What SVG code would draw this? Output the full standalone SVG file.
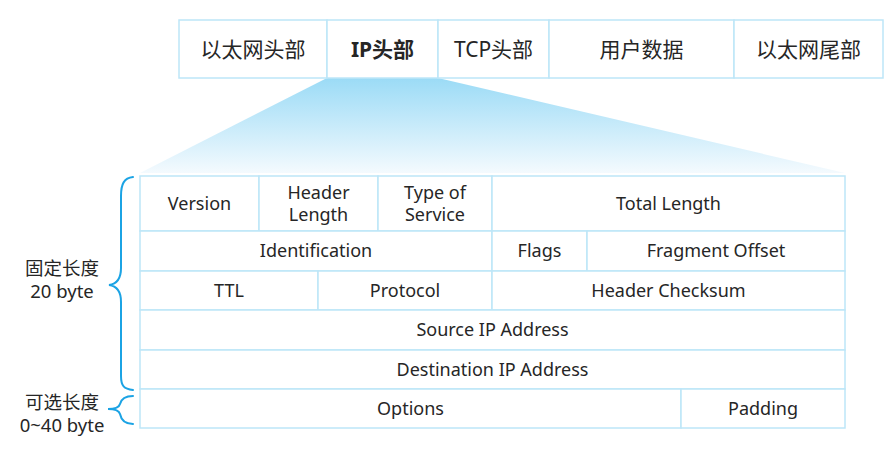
<svg xmlns="http://www.w3.org/2000/svg" width="891" height="452" viewBox="0 0 891 452">
<style>
.cell{fill:#ffffff;stroke:#bde6f8;stroke-width:1.5}
.t{font-family:"Noto Sans","Noto Sans CJK SC",sans-serif;font-size:18px;fill:#262626;text-anchor:middle}
.l{font-family:"Noto Sans","Noto Sans CJK SC",sans-serif;font-size:18.5px;fill:#262626;text-anchor:middle}
.h{font-family:"Noto Sans","Noto Sans CJK SC",sans-serif;font-size:21px;fill:#262626;text-anchor:middle}
.b{font-weight:bold}
.brace{fill:none;stroke:#1ba3e4;stroke-width:2;stroke-linecap:round}
</style>
<defs>
<linearGradient id="g" x1="0" y1="0" x2="0" y2="1">
<stop offset="0" stop-color="#9bdbf6"/>
<stop offset="1" stop-color="#f4fafe"/>
</linearGradient>
</defs>
<rect width="891" height="452" fill="#ffffff"/>
<polygon points="327,78 438,78 845,173 140,173" fill="url(#g)"/>
<g id="frame">
<g id="eth-head"><rect class="cell" x="179" y="20" width="148" height="58"/><text class="h" x="253" y="57">以太网头部</text></g>
<g id="ip-head"><rect class="cell" x="327" y="20" width="111" height="58"/><text class="h b" x="382.5" y="57">IP头部</text></g>
<g id="tcp-head"><rect class="cell" x="438" y="20" width="111" height="58"/><text class="h" x="493.5" y="57">TCP头部</text></g>
<g id="data"><rect class="cell" x="549" y="20" width="185" height="58"/><text class="h" x="641.5" y="57">用户数据</text></g>
<g id="eth-tail"><rect class="cell" x="734" y="20" width="149" height="58"/><text class="h" x="808.5" y="57">以太网尾部</text></g>
</g>
<g id="ip-header">
<g id="version"><rect class="cell" x="140" y="176" width="119" height="55"/><text class="t" x="199.5" y="210">Version</text></g>
<g id="hlen"><rect class="cell" x="259" y="176" width="119" height="55"/><text class="t" x="318.5" y="199">Header</text><text class="t" x="318.5" y="221">Length</text></g>
<g id="tos"><rect class="cell" x="378" y="176" width="114" height="55"/><text class="t" x="435" y="199">Type of</text><text class="t" x="435" y="221">Service</text></g>
<g id="totlen"><rect class="cell" x="492" y="176" width="353" height="55"/><text class="t" x="668.5" y="210">Total Length</text></g>
<g id="ident"><rect class="cell" x="140" y="231" width="352" height="40"/><text class="t" x="316" y="257">Identification</text></g>
<g id="flags"><rect class="cell" x="492" y="231" width="95" height="40"/><text class="t" x="539.5" y="257">Flags</text></g>
<g id="frag"><rect class="cell" x="587" y="231" width="258" height="40"/><text class="t" x="716" y="257">Fragment Offset</text></g>
<g id="ttl"><rect class="cell" x="140" y="271" width="178" height="39"/><text class="t" x="229" y="297">TTL</text></g>
<g id="proto"><rect class="cell" x="318" y="271" width="174" height="39"/><text class="t" x="405" y="297">Protocol</text></g>
<g id="cksum"><rect class="cell" x="492" y="271" width="353" height="39"/><text class="t" x="668.5" y="297">Header Checksum</text></g>
<g id="src"><rect class="cell" x="140" y="310" width="705" height="40"/><text class="t" x="492.5" y="336">Source IP Address</text></g>
<g id="dst"><rect class="cell" x="140" y="350" width="705" height="39"/><text class="t" x="492.5" y="376">Destination IP Address</text></g>
<g id="options"><rect class="cell" x="140" y="389" width="541" height="39"/><text class="t" x="410.5" y="415">Options</text></g>
<g id="padding"><rect class="cell" x="681" y="389" width="164" height="39"/><text class="t" x="763" y="415">Padding</text></g>
</g>
<g id="connectors">
<path class="brace" d="M133,177 C124,178 121,184 121,196 L121,268 C121,279 117,284 109,285 C117,286 121,291 121,302 L121,376 C121,386 124,389 133,390"/>
<path class="brace" d="M133,396 C124,396 121,400 120,404 C119,408 114,409 108,409 C114,409 119,410 120,414 C121,419 124,424 133,424"/>
</g>
<g id="labels">
<text class="l" x="62" y="275">固定长度</text>
<text class="l" x="62" y="298">20 byte</text>
<text class="l" x="62" y="409">可选长度</text>
<text class="l" x="62" y="432">0~40 byte</text>
</g>
</svg>
